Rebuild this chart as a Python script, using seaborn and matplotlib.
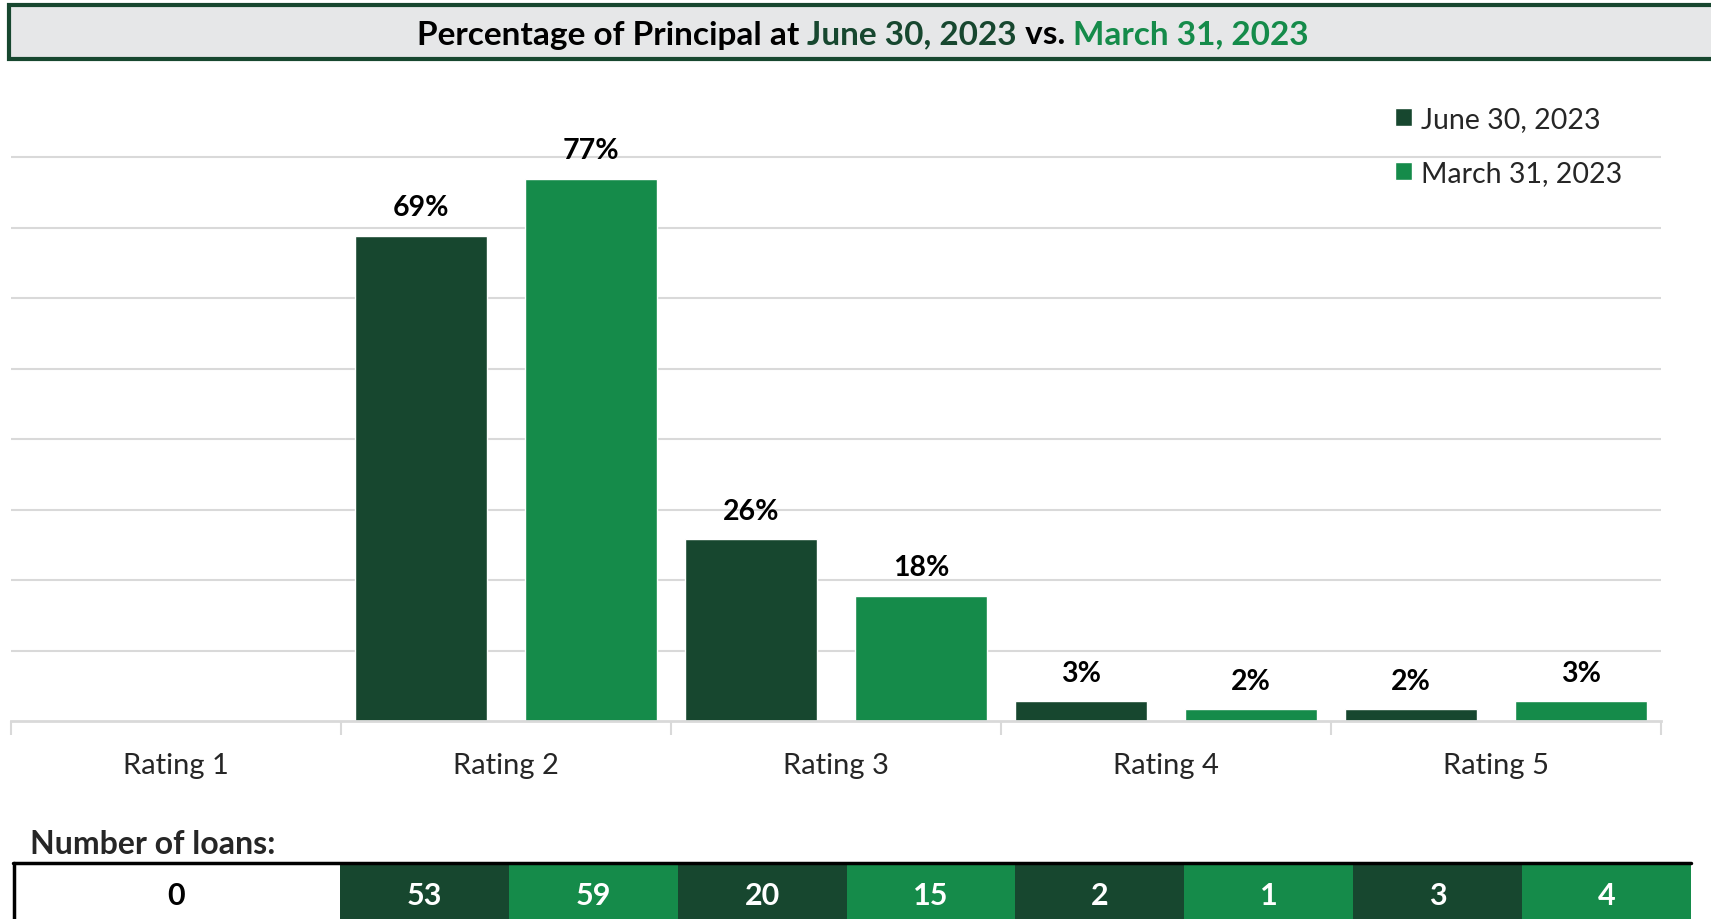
import numpy as np
import pandas as pd
import matplotlib.pyplot as plt
import seaborn as sns
from matplotlib.colors import ListedColormap
from matplotlib.patches import Rectangle

# Chart data
ratings = ["Rating 1", "Rating 2", "Rating 3", "Rating 4", "Rating 5"]
periods = ["June 30, 2023", "March 31, 2023"]
pct_jun = [0, 68.9, 25.8, 2.8, 1.7]
pct_mar = [0, 77.0, 17.8, 1.7, 2.8]
loans_rating1 = 0
loans_jun = [53, 20, 2, 3]
loans_mar = [59, 15, 1, 4]

DARK = "#17472f"
GREEN = "#158b4a"
GRID = "#d9d9d9"
W, H = 1711, 920

sns.set_theme(style="white")
plt.rcParams["font.family"] = ["Lato", "DejaVu Sans"]

df = pd.DataFrame({
    "rating": ratings * 2,
    "period": [periods[0]] * len(ratings) + [periods[1]] * len(ratings),
    "pct": pct_jun + pct_mar,
})

fig = plt.figure(figsize=(W / 100, H / 100), dpi=100)


def fbox(x0, y0, x1, y1):
    # pixel box (origin top-left) -> figure fraction rect
    return [x0 / W, 1 - y1 / H, (x1 - x0) / W, (y1 - y0) / H]


# Main bar chart
ax = fig.add_axes(fbox(11, 102, 1661, 722))
sns.barplot(data=df, x="rating", y="pct", hue="period", palette=[DARK, GREEN],
            width=1.03, gap=0.22, saturation=1, ax=ax)
ax.set_ylim(0, 88)
ax.set_xlim(-0.5, 4.5)
ax.set_yticks(range(10, 90, 10))
ax.yaxis.grid(True, color=GRID, lw=1.5)
ax.set_axisbelow(True)
ax.tick_params(axis="y", left=False, labelleft=False)
for s in ["top", "right", "left"]:
    ax.spines[s].set_visible(False)
ax.spines["bottom"].set_color(GRID)
ax.spines["bottom"].set_linewidth(2)
ax.set_xticks(np.arange(-0.5, 5, 1), minor=True)
ax.tick_params(axis="x", which="minor", bottom=True, length=10, color=GRID, width=1.5)
ax.tick_params(axis="x", which="major", length=0, labelsize=21, pad=22)
ax.set_xlabel("")
ax.set_ylabel("")

for cont in ax.containers:
    labels = [f"{b.get_height():.0f}%" if b.get_height() > 0 else "" for b in cont]
    ax.bar_label(cont, labels=labels, padding=11, fontsize=20.5, fontweight="bold", color="black")

handles, labels = ax.get_legend_handles_labels()
ax.legend(handles, labels, loc="upper left", bbox_to_anchor=(1395 / W, 1 - 107 / H),
          bbox_transform=fig.transFigure, frameon=False, fontsize=20.5,
          handlelength=0.6, handleheight=0.6, handletextpad=0.3,
          labelspacing=1.0, borderpad=0, borderaxespad=0)

# Title box
fig.patches.append(Rectangle((9 / W, 1 - 60 / H), (W + 10 - 9) / W, 54 / H,
                             transform=fig.transFigure, facecolor="#e6e7e8",
                             edgecolor=DARK, lw=3))
parts = [("Percentage of Principal at ", "black"), ("June 30, 2023", DARK),
         (" vs. ", "black"), ("March 31, 2023", GREEN)]
ty = 1 - 35 / H
texts = [fig.text(0, ty, s, color=c, fontsize=24, fontweight="bold", va="center") for s, c in parts]
fig.canvas.draw()
r = fig.canvas.get_renderer()
widths = [t.get_window_extent(r).width for t in texts]
x = 863 - sum(widths) / 2
for t, w in zip(texts, widths):
    t.set_x(x / W)
    x += w

# Number of loans table
fig.text(30 / W, 1 - 845 / H, "Number of loans:", fontsize=23, fontweight="bold", va="center")

tax0 = fig.add_axes(fbox(13, 864, 340, 928))
sns.heatmap(np.array([[0]]), annot=np.array([[loans_rating1]]), fmt="d",
            cmap=ListedColormap(["white"]), cbar=False, xticklabels=False, yticklabels=False,
            annot_kws={"fontsize": 22, "fontweight": "bold", "color": "black"}, ax=tax0)

counts = np.column_stack([loans_jun, loans_mar]).ravel()[None, :]
series = np.tile([0, 1], len(loans_jun))[None, :]
tax = fig.add_axes(fbox(340, 864, 1691, 928))
sns.heatmap(series, annot=counts, fmt="d", cmap=ListedColormap([DARK, GREEN]),
            vmin=0, vmax=1, cbar=False, xticklabels=False, yticklabels=False,
            annot_kws={"fontsize": 22, "fontweight": "bold", "color": "white"}, ax=tax)

fig.add_artist(plt.Line2D([13 / W, 1691 / W], [1 - 864 / H] * 2, color="black", lw=2.5))
fig.add_artist(plt.Line2D([14 / W, 14 / W], [0, 1 - 864 / H], color="black", lw=2.5))

fig.savefig("out.png", dpi=100)
